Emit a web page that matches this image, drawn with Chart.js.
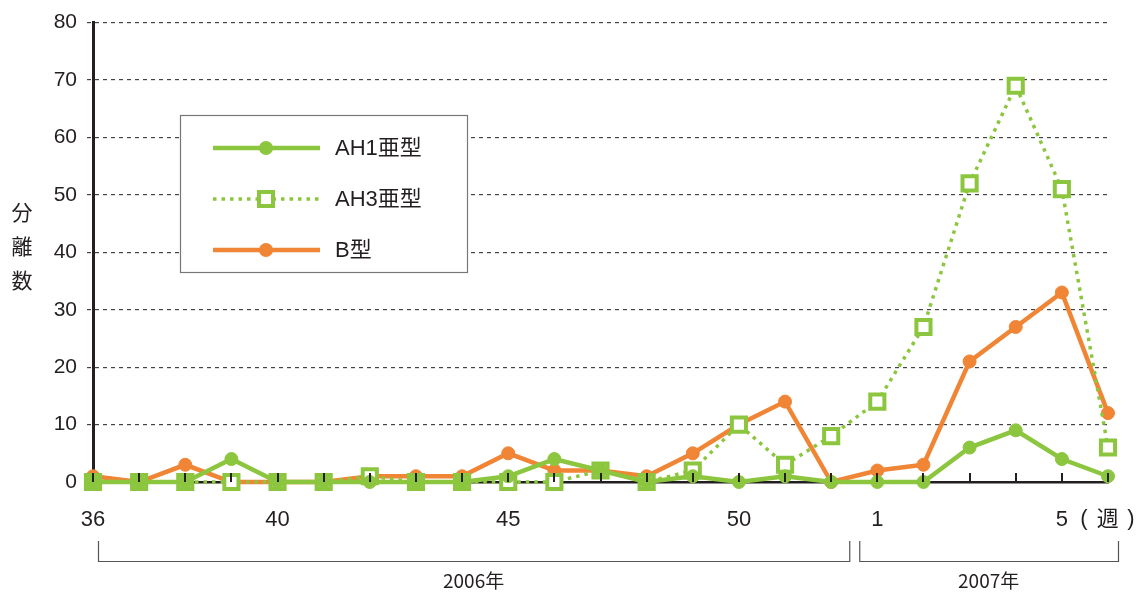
<!DOCTYPE html>
<html>
<head>
<meta charset="utf-8">
<script src="https://cdn.jsdelivr.net/npm/chart.js@4.4.0/dist/chart.umd.min.js"></script>
<style>
  html, body { margin: 0; padding: 0; background: #fff; }
  #wrap { width: 1140px; height: 594px; position: relative; }
</style>
</head>
<body>
<div id="wrap"><canvas id="c" width="1140" height="594"></canvas></div>
<script>
// 週番号 (2006年 36〜52週, 2007年 1〜6週)
const weeks = ['36','37','38','39','40','41','42','43','44','45','46','47','48','49','50','51','52','1','2','3','4','5','6'];
const shownWeeks = ['36','40','45','50','1','5'];

const ah1 = [0,0,0,4,0,0,0,0,0,1,4,2,0,1,0,1,0,0,0,6,9,4,1];
const ah3 = [0,0,0,0,0,0,1,0,0,0,0,2,0,2,10,3,8,14,27,52,69,51,6];
const typeB = [1,0,3,0,0,0,1,1,1,5,2,2,1,5,10,14,0,2,3,21,27,33,12];

const yTicks = [0,10,20,30,40,50,60,70,80];
const years = [
  { label: '2006年', from: 0, to: 16 },
  { label: '2007年', from: 17, to: 22 }
];

const GREEN = '#8cc63f';
const ORANGE = '#f08536';
const FONT = '"Liberation Sans", Arial, "Noto Sans CJK JP", sans-serif';
const CJK = '"Noto Sans CJK JP", sans-serif';

// 軸の内向き目盛り・年の括弧・凡例などを描く
const decor = {
  id: 'decor',
  afterDraw(chart) {
    const { ctx, chartArea: a, scales: { x, y } } = chart;
    ctx.save();
    // x軸の目盛り(上向き)
    ctx.strokeStyle = '#231f20';
    ctx.lineWidth = 2;
    weeks.forEach((w, i) => {
      const px = Math.round(x.getPixelForValue(i));
      ctx.beginPath();
      ctx.moveTo(px, a.bottom);
      ctx.lineTo(px, a.bottom - 9);
      ctx.stroke();
    });
    // ( 週 )
    ctx.fillStyle = '#231f20';
    ctx.textBaseline = 'middle';
    ctx.textAlign = 'center';
    ctx.font = '22px ' + FONT;
    const x5 = x.getPixelForValue(21);
    ctx.fillText('(', x5 + 22, 519);
    ctx.fillText(')', x5 + 69, 519);
    ctx.font = '22px ' + CJK;
    ctx.fillText('週', x5 + 46, 518);

    // 年の括弧
    ctx.strokeStyle = '#555';
    ctx.lineWidth = 1.2;
    ctx.font = '19px ' + CJK;
    const step = x.getPixelForValue(1) - x.getPixelForValue(0);
    years.forEach((yr, k) => {
      const l = k === 0 ? x.getPixelForValue(yr.from) + 5 : x.getPixelForValue(yr.from) - step / 2 + 5;
      const r = k === 0 ? x.getPixelForValue(yr.to) + step / 2 - 5 : x.getPixelForValue(yr.to) + 10;
      ctx.beginPath();
      ctx.moveTo(l + 0.5, 541);
      ctx.lineTo(l + 0.5, 561.5);
      ctx.lineTo(r + 0.5, 561.5);
      ctx.lineTo(r + 0.5, 541);
      ctx.stroke();
      ctx.fillStyle = '#231f20';
      ctx.fillText(yr.label, (l + r) / 2, 581);
    });

    // y軸タイトル (縦書き)
    ctx.font = '21px ' + CJK;
    ['分', '離', '数'].forEach((ch, i) => ctx.fillText(ch, 22, 212 + i * 34));

    // 凡例
    ctx.fillStyle = '#fff';
    ctx.fillRect(180, 115, 287, 157);
    ctx.strokeStyle = '#777';
    ctx.lineWidth = 1.2;
    ctx.strokeRect(180.5, 115.5, 287, 157);
    const rows = [148, 199, 250];
    chart.data.datasets.forEach((ds, i) => {
      const ry = rows[i];
      ctx.strokeStyle = ds.borderColor;
      ctx.lineWidth = ds.borderWidth;
      ctx.setLineDash(ds.borderDash || []);
      ctx.beginPath();
      ctx.moveTo(213, ry);
      ctx.lineTo(320, ry);
      ctx.stroke();
      ctx.setLineDash([]);
      if (ds.pointStyle === 'rect') {
        ctx.fillStyle = '#fff';
        ctx.fillRect(259, ry - 7, 14, 14);
        ctx.lineWidth = 4;
        ctx.strokeRect(259, ry - 7, 14, 14);
      } else {
        ctx.fillStyle = ds.pointBackgroundColor;
        ctx.beginPath();
        ctx.arc(266, ry, 7, 0, Math.PI * 2);
        ctx.fill();
      }
      ctx.fillStyle = '#231f20';
      ctx.textAlign = 'left';
      ctx.font = '22px ' + FONT;
      ctx.fillText(ds.label, 335, ry + 1);
    });
    ctx.restore();
  }
};

new Chart(document.getElementById('c'), {
  type: 'line',
  data: {
    labels: weeks,
    datasets: [
      {
        label: 'AH1亜型',
        data: ah1,
        clip: false,
        borderColor: GREEN,
        borderWidth: 4.5,
        pointStyle: 'circle',
        pointRadius: 6.5,
        pointBackgroundColor: GREEN,
        pointBorderColor: GREEN,
        pointBorderWidth: 1
      },
      {
        label: 'AH3亜型',
        data: ah3,
        clip: false,
        borderColor: GREEN,
        borderWidth: 3.5,
        borderDash: [3.5, 5],
        pointStyle: 'rect',
        pointRadius: 10,
        pointBackgroundColor: '#fff',
        pointBorderColor: GREEN,
        pointBorderWidth: 4
      },
      {
        label: 'B型',
        data: typeB,
        clip: false,
        borderColor: ORANGE,
        borderWidth: 4.5,
        pointStyle: 'circle',
        pointRadius: 6.5,
        pointBackgroundColor: ORANGE,
        pointBorderColor: ORANGE,
        pointBorderWidth: 1
      }
    ]
  },
  options: {
    responsive: false,
    animation: false,
    layout: { padding: { left: 0, right: 32, top: 22, bottom: 0 } },
    plugins: { legend: { display: false }, tooltip: { enabled: false } },
    elements: { line: { tension: 0 } },
    scales: {
      x: {
        offset: false,
        grid: { display: false },
        border: { display: true, color: '#231f20', width: 2.5 },
        ticks: {
          autoSkip: false,
          maxRotation: 0,
          padding: 17,
          color: '#231f20',
          font: { family: FONT, size: 22 },
          callback: function (v, i) { return shownWeeks.includes(weeks[i]) ? weeks[i] : ''; }
        },
        afterFit(s) { s.height = 112; }
      },
      y: {
        min: 0,
        max: 80,
        afterBuildTicks(s) { s.ticks = yTicks.map(v => ({ value: v })); },
        grid: {
          color: '#444',
          lineWidth: 1.2,
          tickLength: 6,
          drawTicks: true,
          tickBorderDash: [4, 4]
        },
        border: { display: true, color: '#231f20', width: 3, dash: [4, 4] },
        ticks: {
          padding: 10,
          color: '#231f20',
          font: { family: FONT, size: 21 }
        },
        afterFit(s) { s.width = 93; }
      }
    }
  },
  plugins: [decor]
});
</script>
</body>
</html>
